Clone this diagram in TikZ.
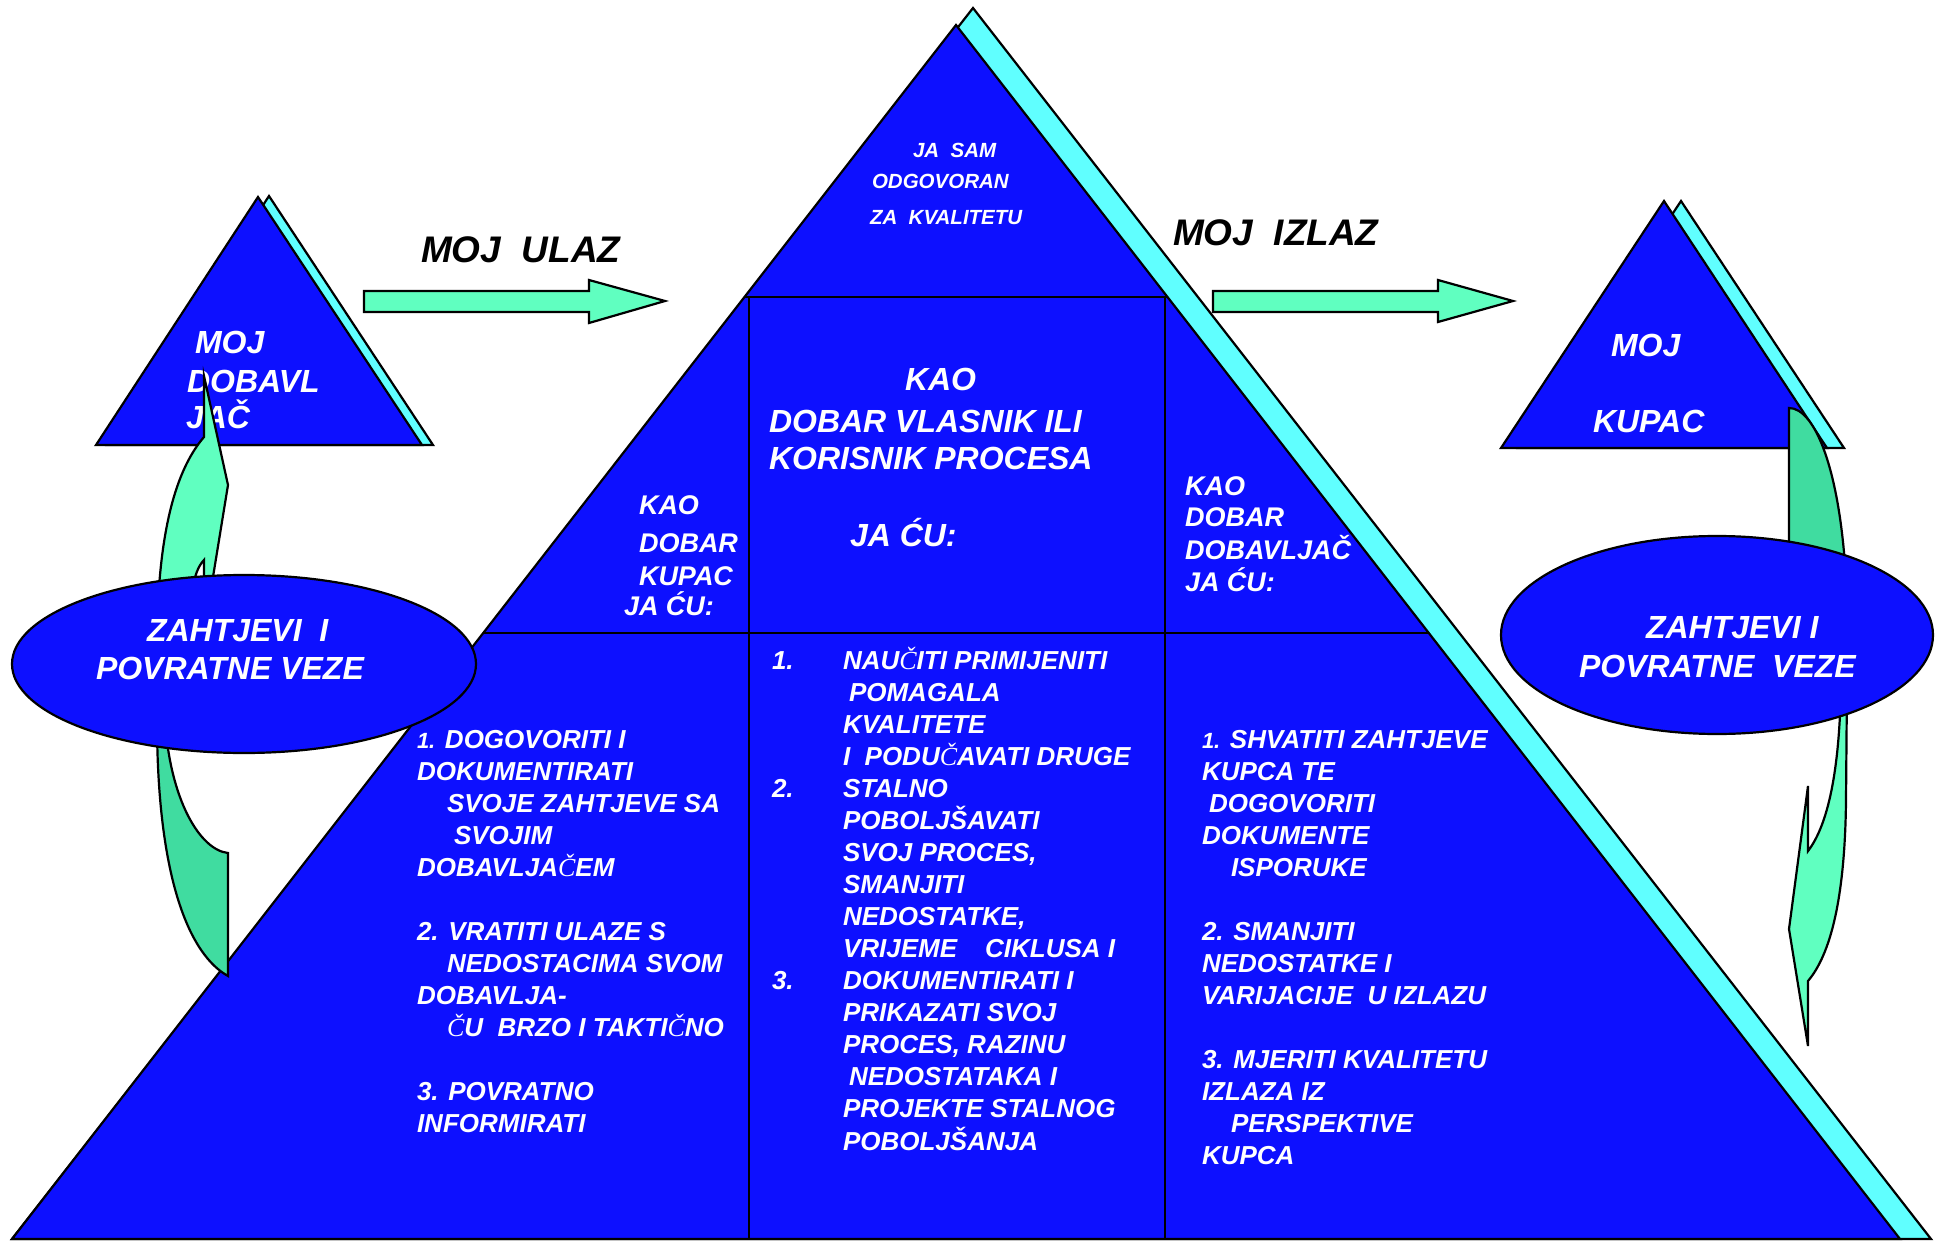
\documentclass[tikz,border=0pt]{standalone}
\usepackage{fontspec}
\setmainfont{Liberation Sans}
\newfontfamily\serifc{Liberation Serif}
% the C-caron in the lower blocks is set in a serif italic
\newcommand\ccaronserif{{\serifc\mdseries\itshape Č}}
\definecolor{pblue}{HTML}{0D10FF}
\definecolor{pcyan}{HTML}{60FFFF}
\definecolor{pgreen}{HTML}{60FFC0}
\definecolor{pgreendk}{HTML}{40DCA0}
\begin{document}
\begin{tikzpicture}[x=1pt,y=-1pt,
  outl/.style={draw=black,line width=2.2pt,line join=miter},
  lbl/.style={inner sep=0pt,outer sep=0pt,anchor=base west,text=white},
  fA/.style={lbl,font=\bfseries\itshape\fontsize{32}{38}\selectfont},
  fB/.style={lbl,font=\bfseries\itshape\fontsize{27}{32}\selectfont},
  fC/.style={lbl,font=\bfseries\itshape\fontsize{26}{32}\selectfont},
  fD/.style={lbl,font=\bfseries\itshape\fontsize{20.5}{24}\selectfont},
  blacktitle/.style={lbl,text=black,font=\bfseries\itshape\fontsize{37}{44}\selectfont}]
\useasboundingbox (0,0) rectangle (1939,1241);

% ---- main pyramid with its cyan edge
\path[outl,fill=pcyan] (973,8) -- (1931,1239) -- (12,1239) -- cycle;
\path[outl,fill=pblue] (956,25) -- (1900,1239) -- (12,1239) -- cycle;
\draw[outl] (745,297) -- (1167,297);
\draw[outl] (749,297) -- (749,1239);
\draw[outl] (1165,297) -- (1165,1239);
\draw[outl] (483,633) -- (1429,633);

% ---- supplier and customer triangles
\path[outl,fill=pcyan] (269,196) -- (433,445) -- (107,445) -- cycle;
\path[outl,fill=pblue] (258,197) -- (422,445) -- (96,445) -- cycle;
\path[outl,fill=pcyan] (1681,201) -- (1844,448) -- (1518,448) -- cycle;
\path[outl,fill=pblue] (1664,201) -- (1827,448) -- (1501,448) -- cycle;

% ---- texts in the pyramid
\node[fD] (top1) at (913,158) {JA\ \ SAM};
\node[fD] (top2) at (872,189) {ODGOVORAN};
\node[fD] (top3) at (870,225) {ZA\ \ KVALITETU};

\node[fA] (own1) at (905,390) {KAO};
\node[fA] (own2) at (769,432) {DOBAR VLASNIK ILI};
\node[fA] (own3) at (769,469) {KORISNIK PROCESA};
\node[fA] (own4) at (850,546) {JA ĆU:};

\node[fB] (cus1) at (639,514) {KAO};
\node[fB] (cus2) at (639,552) {DOBAR};
\node[fB] (cus3) at (639,585) {KUPAC};
\node[fB] (cus4) at (624,615) {JA ĆU:};

\node[fB] (sup1) at (1185,495) {KAO};
\node[fB] (sup2) at (1185,526) {DOBAR};
\node[fB] (sup3) at (1185,559) {DOBAVLJAČ};
\node[fB] (sup4) at (1185,591) {JA ĆU:};

\node[fC] (leftlist) at (417,748) {\begin{tabular}[t]{@{}l@{}}
{\fontsize{22}{32}\selectfont 1.} DOGOVORITI I\\
DOKUMENTIRATI\\
\hspace*{30pt}SVOJE ZAHTJEVE SA\\
\hspace*{37pt}SVOJIM\\
DOBAVLJA\ccaronserif EM\\
\\
2. VRATITI ULAZE S\\
\hspace*{30pt}NEDOSTACIMA SVOM\\
DOBAVLJA-\\
\hspace*{30pt}\ccaronserif U\ \ BRZO I TAKTI\ccaronserif NO\\
\\
3. POVRATNO\\
INFORMIRATI
\end{tabular}};

\node[fC] (midnums) at (772,669) {\begin{tabular}[t]{@{}l@{}}
1.\\ \\ \\ \\ 2.\\ \\ \\ \\ \\ \\ 3.
\end{tabular}};
\node[fC] (midlist) at (843,669) {\begin{tabular}[t]{@{}l@{}}
NAU\ccaronserif ITI PRIMIJENITI\\
\hspace*{6pt}POMAGALA\\
KVALITETE\\
I\ \ PODU\ccaronserif AVATI DRUGE\\
STALNO\\
POBOLJŠAVATI\\
SVOJ PROCES,\\
SMANJITI\\
NEDOSTATKE,\\
VRIJEME\hspace*{28pt}CIKLUSA I\\
DOKUMENTIRATI I\\
PRIKAZATI SVOJ\\
PROCES, RAZINU\\
\hspace*{6pt}NEDOSTATAKA I\\
PROJEKTE STALNOG\\
POBOLJŠANJA
\end{tabular}};

\node[fC] (rightlist) at (1202,748) {\begin{tabular}[t]{@{}l@{}}
{\fontsize{22}{32}\selectfont 1.} SHVATITI ZAHTJEVE\\
KUPCA TE\\
\hspace*{7pt}DOGOVORITI\\
DOKUMENTE\\
\hspace*{29pt}ISPORUKE\\
\\
2. SMANJITI\\
NEDOSTATKE I\\
VARIJACIJE\ \ U IZLAZU\\
\\
3. MJERITI KVALITETU\\
IZLAZA IZ\\
\hspace*{29pt}PERSPEKTIVE\\
KUPCA
\end{tabular}};

% ---- texts in the small triangles
\node[fA] (dob1) at (195,353) {MOJ};
\node[fA] (dob2) at (187,392) {DOBAVL};
\node[fA] (dob3) at (186,428) {JAČ};
\node[fA] (kup1) at (1611,356) {MOJ};
\node[fA] (kup2) at (1593,432) {KUPAC};

% ---- input and output arrows with their titles
\node[blacktitle] (ulaz) at (421,263) {MOJ\ \ ULAZ};
\node[blacktitle] (izlaz) at (1173,246) {MOJ\ \ IZLAZ};
\path[outl,fill=pgreen] (364,291) -- (589,291) -- (589,280) -- (665,301)
  -- (589,323) -- (589,312) -- (364,312) -- cycle;
\path[outl,fill=pgreen] (1213,291) -- (1438,291) -- (1438,280) -- (1513,301)
  -- (1438,322) -- (1438,312) -- (1213,312) -- cycle;

% ---- curved feedback arrow on the left
\path[outl,fill=pgreendk] (157,720) .. controls (157,880) and (190,955) .. (228,976)
  -- (228,853) .. controls (200,850) and (170,800) .. (165,720) -- cycle;
\path[outl,fill=pgreen] (157,640) .. controls (158,520) and (180,465) .. (204,437)
  -- (204,376) -- (228,485) -- (213,577) -- (211,640) -- (204,640) -- (204,560)
  .. controls (198,566) and (190,580) .. (187,640) -- cycle;

% ---- curved feedback arrow on the right
\path[outl,fill=pgreendk] (1789,580) -- (1789,408)
  .. controls (1815,408) and (1840,470) .. (1846,580) -- cycle;
\path[outl,fill=pgreen] (1847,680) -- (1846,800)
  .. controls (1845,900) and (1830,955) .. (1808,981)
  -- (1808,1046) -- (1789,929) -- (1808,786) -- (1808,851)
  .. controls (1828,825) and (1840,770) .. (1841,680) -- cycle;

% ---- requirement / feedback ellipses
\path[outl,fill=pblue] (244,664) ellipse [x radius=232,y radius=89];
\path[outl,fill=pblue] (1717,635) ellipse [x radius=216,y radius=99];
\node[fA] (zl1) at (147,641) {ZAHTJEVI\ \ I};
\node[fA] (zl2) at (96,679) {POVRATNE VEZE};
\node[fA] (zr1) at (1646,638) {ZAHTJEVI I};
\node[fA] (zr2) at (1579,677) {POVRATNE\ \ VEZE};
\end{tikzpicture}
\end{document}
